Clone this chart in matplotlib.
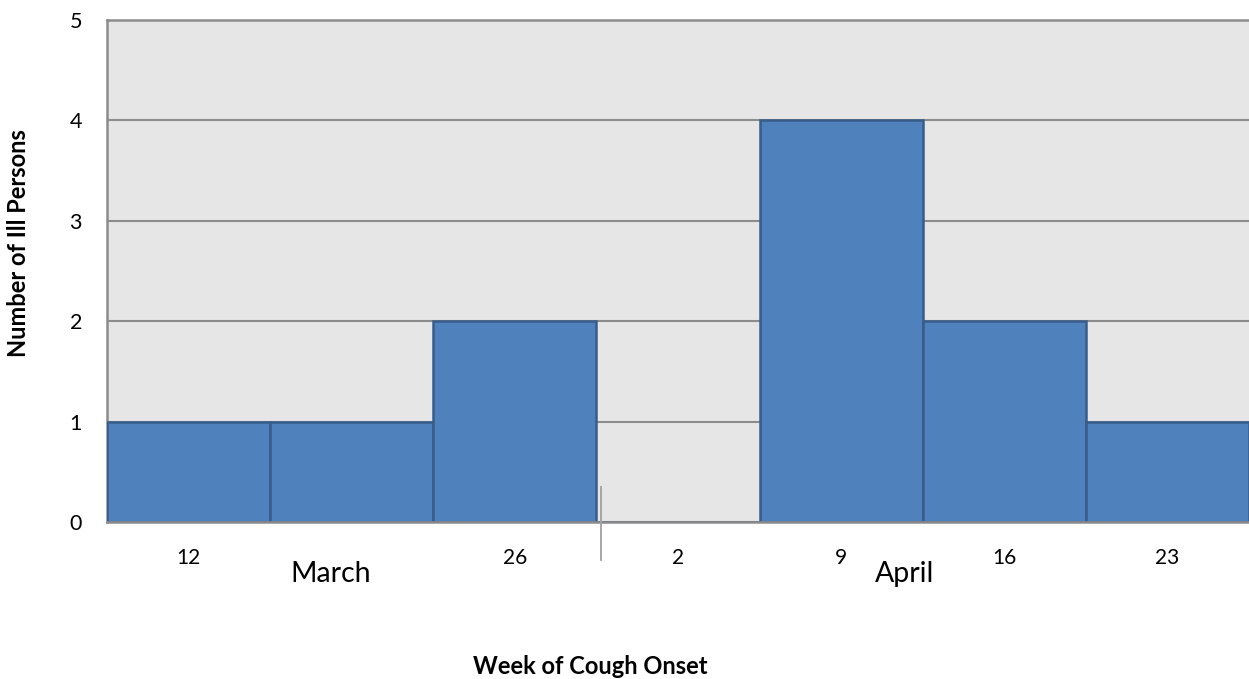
import matplotlib
matplotlib.use("Agg")
import matplotlib.pyplot as plt
import matplotlib.transforms as mtransforms

# Data
weeks = ['12', '19', '26', '2', '9', '16', '23']
tick_labels = ['12', '', '26', '2', '9', '16', '23']
cases = [1, 1, 2, 0, 4, 2, 1]
months = ['March', 'April']
month_pos = [0.87, 4.39]
month_break = 2.53

plt.rcParams['font.family'] = ['Lato', 'DejaVu Sans']

W, H = 1249, 679
fig = plt.figure(figsize=(W / 100, H / 100), dpi=100)
ax = fig.add_axes([107 / W, 1 - 522 / H, 1 - 107 / W, (522 - 20) / H])
ax.set_facecolor('#e6e6e6')

x = list(range(len(weeks)))
ax.bar(x, cases, width=1.0, color='#4f81bd', edgecolor='#385d8a', linewidth=1.8, zorder=3)

ax.set_xlim(-0.5, len(weeks) - 0.5)
ax.set_ylim(0, 5)
ax.set_yticks(range(0, 6))
ax.yaxis.grid(True, color='#8c8c8c', linewidth=1.5, zorder=1)
ax.set_axisbelow(True)

ax.set_xticks(x)
ax.set_xticklabels(tick_labels, fontsize=15)
ax.tick_params(axis='x', length=0, pad=19)
ax.tick_params(axis='y', length=0, pad=18, labelsize=15.5)

for side in ['left', 'bottom', 'top']:
    ax.spines[side].set_color('#8c8c8c')
    ax.spines[side].set_linewidth(1.8)
ax.spines['right'].set_visible(False)
ax.spines['bottom'].set_zorder(4)

trans = mtransforms.blended_transform_factory(ax.transData, ax.transAxes)
for m, p in zip(months, month_pos):
    ax.text(p, -0.12, m, transform=trans, ha='center', va='baseline', fontsize=20.5)
ax.plot([month_break, month_break], [0.07, -0.076], transform=trans, color='#a0a0a0',
        linewidth=1.3, clip_on=False, zorder=5)

fig.text(19 / W, 1 - 243 / H, 'Number of Ill Persons', rotation=90, ha='center', va='center',
         fontsize=17, fontweight='bold')
fig.text(590 / W, 1 - 666 / H, 'Week of Cough Onset', ha='center', va='center',
         fontsize=17, fontweight='bold')

fig.savefig('out.png', dpi=100)
